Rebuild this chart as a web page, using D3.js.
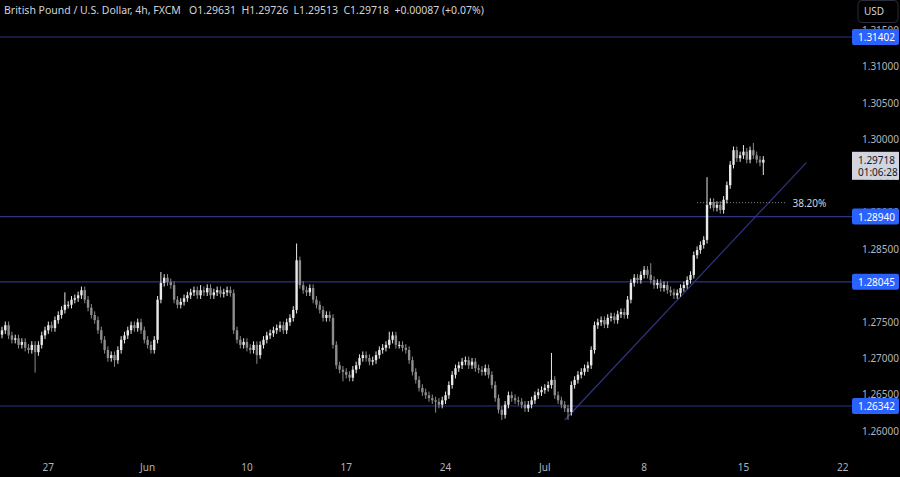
<!DOCTYPE html>
<html><head><meta charset="utf-8">
<script src="https://cdn.jsdelivr.net/npm/d3@7"></script>
<style>body{margin:0;background:#000;overflow:hidden}svg{display:block}</style>
</head><body><svg id="c" width="900" height="477"></svg>
<script>
const closes = [
1.2738,1.2745,1.2731,1.2725,1.2727,1.2718,1.2722,1.2714,1.2711,1.2718,
1.2708,1.2718,1.2731,1.2738,1.2745,1.2741,1.2752,1.2759,1.2766,1.2773,
1.2773,1.2780,1.2782,1.2786,1.2793,1.2780,1.2769,1.2759,1.2752,1.2738,
1.2725,1.2711,1.2700,1.2704,1.2697,1.2711,1.2725,1.2731,1.2738,1.2745,
1.2741,1.2749,1.2738,1.2725,1.2718,1.2711,1.2725,1.2780,1.2803,1.2810,
1.2804,1.2800,1.2780,1.2773,1.2777,1.2782,1.2786,1.2790,1.2793,1.2786,
1.2793,1.2790,1.2796,1.2786,1.2790,1.2793,1.2788,1.2790,1.2793,1.2789,
1.2738,1.2725,1.2718,1.2722,1.2714,1.2711,1.2718,1.2704,1.2718,1.2725,
1.2731,1.2734,1.2738,1.2741,1.2745,1.2738,1.2749,1.2755,1.2766,1.2834,
1.2800,1.2793,1.2790,1.2796,1.2780,1.2773,1.2766,1.2755,1.2759,1.2755,
1.2718,1.2690,1.2684,1.2681,1.2677,1.2673,1.2684,1.2690,1.2700,1.2704,
1.2700,1.2695,1.2697,1.2704,1.2711,1.2714,1.2718,1.2725,1.2731,1.2718,
1.2718,1.2714,1.2711,1.2697,1.2681,1.2670,1.2659,1.2653,1.2649,1.2645,
1.2642,1.2640,1.2636,1.2642,1.2649,1.2663,1.2677,1.2686,1.2690,1.2695,
1.2697,1.2690,1.2695,1.2686,1.2684,1.2681,1.2686,1.2677,1.2663,1.2645,
1.2629,1.2622,1.2636,1.2649,1.2645,1.2642,1.2640,1.2636,1.2631,1.2636,
1.2642,1.2649,1.2653,1.2656,1.2659,1.2663,1.2670,1.2649,1.2642,1.2636,
1.2631,1.2626,1.2663,1.2670,1.2677,1.2681,1.2686,1.2690,1.2711,1.2745,
1.2749,1.2752,1.2746,1.2755,1.2757,1.2752,1.2760,1.2763,1.2759,1.2780,
1.2803,1.2810,1.2807,1.2814,1.2821,1.2814,1.2807,1.2800,1.2803,1.2796,
1.2800,1.2793,1.2790,1.2786,1.2789,1.2796,1.2800,1.2807,1.2814,1.2841,
1.2848,1.2855,1.2862,1.2910,1.2914,1.2906,1.2910,1.2903,1.2917,1.2937,
1.2965,1.2985,1.2974,1.2978,1.2983,1.2972,1.2985,1.2978,1.2972,1.2968,
1.29718];
const firstOpen = 1.2732;
const wickHighs = [[89,1.2857],[166,1.2707],[196,1.2830],[213,1.2948],[224,1.2992],[227,1.2995],[48,1.2818],[19,1.2790],[117,1.2736],[60,1.2800]];
const wickLows = [[10,1.2680],[103,1.2668],[131,1.2625],[151,1.2615],[171,1.2615],[34,1.2688],[230,1.2951],[77,1.2692]];
const levels = [1.31402, 1.28940, 1.28045, 1.26342];
const levelLabels = ["1.31402","1.28940","1.28045","1.26342"];
const yTicks = [1.26,1.265,1.27,1.275,1.28,1.285,1.29,1.295,1.30,1.305,1.31,1.315];
const xTickIdx = [14,44,74,104,134,164,194,224,254];
const xTickLabels = ["27","Jun","10","17","24","Jul","8","15","22"];
const trend = [[170,1.2615],[243,1.2968]];
const fibLevel = 1.2913, fibFrom = 210, fibTo = 237, fibLabel = "38.20%";
const lastPrice = "1.29718", countdown = "01:06:28";

const svg = d3.select("#c");
const W = 900, H = 477, plotR = 852;
const x = d3.scaleLinear().domain([0, 1]).range([2, 5.31]);
const y = d3.scaleLinear().domain([1.31402, 1.26342]).range([37, 406]);
const font = "'Noto Sans', 'DejaVu Sans', sans-serif";
const fs = 10;

svg.append("rect").attr("width",W).attr("height",H).attr("fill","#000");

const candles = closes.map((c,i)=>{
  const o = i===0 ? firstOpen : closes[i-1];
  let h = Math.max(o,c)+0.0005, l = Math.min(o,c)-0.0005;
  wickHighs.forEach(([k,v])=>{ if(k===i) h=v; });
  wickLows.forEach(([k,v])=>{ if(k===i) l=v; });
  return {i,o,c,h,l};
});

svg.selectAll(".lvl").data(levels).join("line")
  .attr("x1",0).attr("x2",plotR).attr("y1",d=>y(d)).attr("y2",d=>y(d))
  .attr("stroke","#2e3580").attr("stroke-width",1.2);

svg.append("line").attr("x1",x(trend[0][0])).attr("y1",y(trend[0][1]))
  .attr("x2",x(trend[1][0])).attr("y2",y(trend[1][1]))
  .attr("stroke","#2e3580").attr("stroke-width",1.2);

svg.append("line").attr("x1",x(fibFrom)).attr("x2",x(fibTo)).attr("y1",y(fibLevel)).attr("y2",y(fibLevel))
  .attr("stroke","#888").attr("stroke-dasharray","1,2");
svg.append("text").attr("x",x(fibTo)+6).attr("y",y(fibLevel)+4).text(fibLabel)
  .attr("fill","#d1d4dc").attr("font-size",fs).attr("font-family",font);

const g = svg.append("g");
g.selectAll(".w").data(candles).join("line")
  .attr("x1",d=>x(d.i)).attr("x2",d=>x(d.i)).attr("y1",d=>y(d.h)).attr("y2",d=>y(d.l))
  .attr("stroke",d=>d.c>=d.o?"#e8e8e8":"#8c8c8c").attr("stroke-width",1);
g.selectAll(".b").data(candles).join("rect")
  .attr("x",d=>x(d.i)-1.2).attr("width",2.4)
  .attr("y",d=>y(Math.max(d.o,d.c))).attr("height",d=>Math.max(1,Math.abs(y(d.o)-y(d.c))))
  .attr("fill",d=>d.c>=d.o?"#e8e8e8":"#8c8c8c");

svg.selectAll(".yt").data(yTicks).join("text")
  .attr("x",862).attr("y",d=>y(d)+4).text(d=>d.toFixed(5))
  .attr("fill","#b2b5be").attr("font-size",fs).attr("font-family",font);

const lg = svg.selectAll(".ll").data(levels).join("g").attr("transform",d=>`translate(852,${y(d)-8})`);
lg.append("rect").attr("width",47).attr("height",16).attr("rx",2).attr("fill","#2962ff");
lg.append("text").attr("x",6).attr("y",12).text((d,i)=>levelLabels[i])
  .attr("fill","#fff").attr("font-size",fs).attr("font-family",font);

const lp = svg.append("g").attr("transform",`translate(852,${y(1.29718)-8})`);
lp.append("rect").attr("width",47).attr("height",28).attr("fill","#d1d4dc");
lp.append("text").attr("x",6).attr("y",12).text(lastPrice).attr("fill","#131722").attr("font-size",fs).attr("font-family",font);
lp.append("text").attr("x",6).attr("y",24).text(countdown).attr("fill","#131722").attr("font-size",fs).attr("font-family",font);

svg.append("rect").attr("x",858).attr("y",0.5).attr("width",40).attr("height",22).attr("rx",4)
  .attr("fill","#000").attr("stroke","#2a2e39");
svg.append("text").attr("x",864).attr("y",15).text("USD").attr("fill","#d1d4dc").attr("font-size",fs).attr("font-family",font);

svg.selectAll(".xt").data(xTickIdx).join("text")
  .attr("x",d=>x(d)).attr("y",471).attr("text-anchor","middle").text((d,i)=>xTickLabels[i])
  .attr("fill","#b2b5be").attr("font-size",fs).attr("font-family",font);

svg.append("text").attr("x",4).attr("y",14)
  .text("British Pound / U.S. Dollar, 4h, FXCM   O1.29631  H1.29726  L1.29513  C1.29718  +0.00087 (+0.07%)")
  .attr("fill","#d1d4dc").attr("font-size",10.5).attr("font-family",font).attr("xml:space","preserve");
</script></body></html>
